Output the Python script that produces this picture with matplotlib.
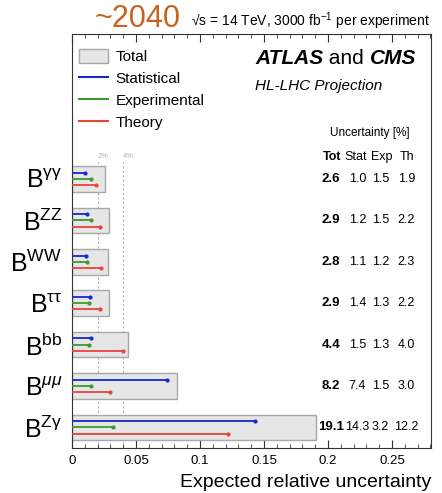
import matplotlib.pyplot as plt
import numpy as np
from matplotlib.patches import Patch
from matplotlib.lines import Line2D
from matplotlib.ticker import MultipleLocator

plt.rcParams['font.family'] = ['Liberation Sans', 'DejaVu Sans']
plt.rcParams['mathtext.fontset'] = 'custom'
plt.rcParams['mathtext.rm'] = 'Liberation Sans'
plt.rcParams['mathtext.it'] = 'Liberation Sans:italic'
plt.rcParams['mathtext.bf'] = 'Liberation Sans:bold'

# channels from top to bottom
labels = [r'B$^{\mathrm{γγ}}$', r'B$^{\mathrm{ZZ}}$', r'B$^{\mathrm{WW}}$', r'B$^{\mathrm{ττ}}$',
          r'B$^{\mathrm{bb}}$', r'B$^{\mathit{μμ}}$', r'B$^{\mathrm{Zγ}}$']
tot = [2.6, 2.9, 2.8, 2.9, 4.4, 8.2, 19.1]
stat = [1.0, 1.2, 1.1, 1.4, 1.5, 7.4, 14.3]
exp = [1.5, 1.5, 1.2, 1.3, 1.3, 1.5, 3.2]
th = [1.9, 2.2, 2.3, 2.2, 4.0, 3.0, 12.2]

n = len(labels)
ypos = np.arange(n)[::-1]

fig = plt.figure(figsize=(4.42, 4.93), dpi=100)
ax = fig.add_axes([0.163, 0.091, 0.812, 0.84])

tot_f = np.array(tot) / 100
stat_f = np.array(stat) / 100
exp_f = np.array(exp) / 100
th_f = np.array(th) / 100

c_stat, c_exp, c_th = '#1428d2', '#3c9a30', '#e6453c'

ax.barh(ypos, tot_f, height=0.62, color='#e6e6e6', edgecolor='#a8a8a8', linewidth=1, zorder=2)
for vals, off, col in [(stat_f, 0.15, c_stat), (exp_f, 0.0, c_exp), (th_f, -0.15, c_th)]:
    for y, v in zip(ypos, vals):
        ax.plot([0, v], [y + off, y + off], color=col, lw=1.3, zorder=3,
                solid_capstyle='butt')
        ax.plot([v], [y + off], marker='o', ms=2.0, color=col, zorder=3)

for xv, lab in [(0.02, '2%'), (0.04, '4%')]:
    ax.axvline(xv, ymax=0.69, color='#b0b0b0', ls=(0, (2, 2)), lw=0.8, zorder=1)
    ax.text(xv, 6.54, lab, color='#b0b0b0', fontsize=5.5, ha='left', va='center')

ax.set_xlim(0, 0.2805)
ax.set_ylim(-0.5, 9.5)
ax.set_yticks(ypos)
ax.set_yticklabels(labels, fontsize=18)
ax.tick_params(axis='y', length=0, pad=7)
ax.set_xticks([0, 0.05, 0.1, 0.15, 0.2, 0.25])
ax.set_xticklabels(['0', '0.05', '0.1', '0.15', '0.2', '0.25'], fontsize=9.5)
ax.xaxis.set_minor_locator(MultipleLocator(0.01))
ax.tick_params(axis='x', which='both', direction='in', top=True, color='#333333')
ax.tick_params(axis='x', which='major', length=6, pad=5)
ax.tick_params(axis='x', which='minor', length=3)
for s in ax.spines.values():
    s.set_color('#333333')

ax.set_xlabel('Expected relative uncertainty', fontsize=14, loc='right', labelpad=5)

# table of numbers
ax.text(0.2328, 7.12, 'Uncertainty [%]', fontsize=8.5, ha='center', va='center')
for x, h, w in zip([0.2036, 0.2219, 0.2422, 0.2617], ['Tot', 'Stat', 'Exp', 'Th'],
                   ['bold', 'normal', 'normal', 'normal']):
    ax.text(x, 6.54, h, fontsize=9, ha='center', va='center', fontweight=w)
for i, y in enumerate(ypos):
    ax.text(0.2025, y, f'{tot[i]:.1f}', fontsize=9.5, ha='center', va='center', fontweight='bold')
    ax.text(0.2230, y, f'{stat[i]:.1f}', fontsize=9, ha='center', va='center')
    ax.text(0.2410, y, f'{exp[i]:.1f}', fontsize=9, ha='center', va='center')
    ax.text(0.2613, y, f'{th[i]:.1f}', fontsize=9, ha='center', va='center')

# legend
handles = [Patch(facecolor='#e6e6e6', edgecolor='#a8a8a8'),
           Line2D([], [], color=c_stat, lw=1.5),
           Line2D([], [], color=c_exp, lw=1.5),
           Line2D([], [], color=c_th, lw=1.5)]
ax.legend(handles, ['Total', 'Statistical', 'Experimental', 'Theory'], loc='upper left',
          bbox_to_anchor=(-0.005, 0.985), frameon=False, fontsize=11, handlelength=1.9,
          handleheight=1.0, labelspacing=0.45, borderaxespad=0.3, borderpad=0.3,
          handletextpad=0.45)

t1 = ax.text(0.51, 0.942, 'ATLAS', transform=ax.transAxes, fontsize=15,
             fontweight='bold', style='italic', ha='left', va='center')
t2 = ax.annotate(' and ', xy=(1, 0), xycoords=t1, fontsize=15, ha='left', va='bottom')
ax.annotate('CMS', xy=(1, 0), xycoords=t2, fontsize=15, fontweight='bold',
            style='italic', ha='left', va='bottom')
ax.text(0.51, 0.874, 'HL-LHC Projection', transform=ax.transAxes, fontsize=11,
        style='italic', ha='left', va='center')

fig.text(0.213, 0.962, '~2040', color='#c8621e', fontsize=22, ha='left', va='center')
fig.text(0.973, 0.958, '√s = 14 TeV, 3000 fb$^{-1}$ per experiment',
         fontsize=10, ha='right', va='center')

fig.savefig('out.png', dpi=100)
